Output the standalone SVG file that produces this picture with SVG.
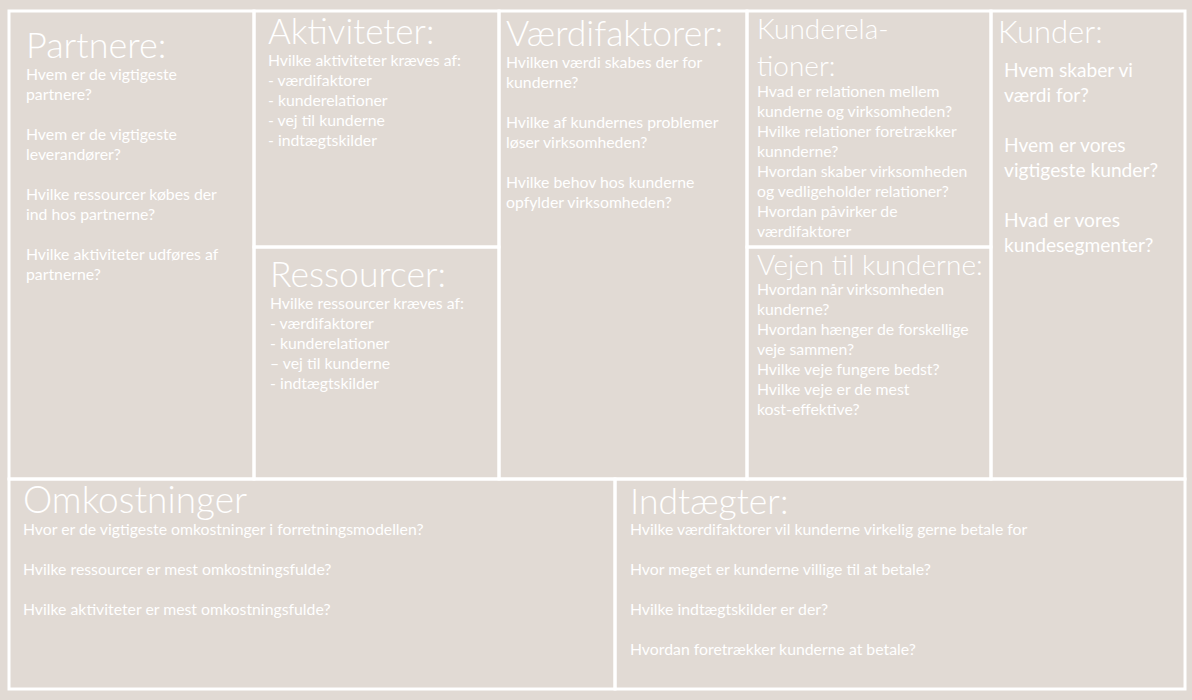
<svg xmlns="http://www.w3.org/2000/svg" width="1192" height="700" viewBox="0 0 1192 700">
<style>
.cell{fill:none;stroke:#ffffff;stroke-width:3}
text{fill:#ffffff;font-family:Lato,"Open Sans","Liberation Sans",sans-serif}
.t{font-size:35.5px;font-weight:300}
.t2{font-size:28px;font-weight:300}
.b{font-size:15.8px}
.bk{font-size:19.2px}
</style>
<rect width="1192" height="700" fill="#e1dad4"/>
<g id="partnere">
<rect class="cell" x="9" y="11" width="245" height="468"/>
<text class="t" x="26" y="58" style="font-size:36px">Partnere:</text>
<text class="b" x="26" y="80">Hvem er de vigtigeste</text>
<text class="b" x="26" y="100">partnere?</text>
<text class="b" x="26" y="140">Hvem er de vigtigeste</text>
<text class="b" x="26" y="160">leverandører?</text>
<text class="b" x="26" y="200">Hvilke ressourcer købes der</text>
<text class="b" x="26" y="220">ind hos partnerne?</text>
<text class="b" x="26" y="260">Hvilke aktiviteter udføres af</text>
<text class="b" x="26" y="280">partnerne?</text>
</g>
<g id="aktiviteter">
<rect class="cell" x="254" y="11" width="245" height="236"/>
<text class="t" x="268" y="44" style="font-size:35px">Aktiviteter:</text>
<text class="b" x="268" y="66">Hvilke aktiviteter kræves af:</text>
<text class="b" x="268" y="86">- værdifaktorer</text>
<text class="b" x="268" y="106">- kunderelationer</text>
<text class="b" x="268" y="126">- vej til kunderne</text>
<text class="b" x="268" y="146">- indtægtskilder</text>
</g>
<g id="ressourcer">
<rect class="cell" x="254" y="247" width="245" height="232"/>
<text class="t" x="270" y="287">Ressourcer:</text>
<text class="b" x="270" y="309">Hvilke ressourcer kræves af:</text>
<text class="b" x="270" y="329">- værdifaktorer</text>
<text class="b" x="270" y="349">- kunderelationer</text>
<text class="b" x="270" y="369">– vej til kunderne</text>
<text class="b" x="270" y="389">- indtægtskilder</text>
</g>
<g id="vaerdifaktorer">
<rect class="cell" x="499" y="11" width="248" height="468"/>
<text class="t" x="506" y="46">Værdifaktorer:</text>
<text class="b" x="506" y="68">Hvilken værdi skabes der for</text>
<text class="b" x="506" y="88">kunderne?</text>
<text class="b" x="506" y="128">Hvilke af kundernes problemer</text>
<text class="b" x="506" y="148">løser virksomheden?</text>
<text class="b" x="506" y="188">Hvilke behov hos kunderne</text>
<text class="b" x="506" y="208">opfylder virksomheden?</text>
</g>
<g id="kunderelationer">
<rect class="cell" x="747" y="11" width="244" height="236"/>
<text class="t2" x="757" y="39">Kunderela-</text>
<text class="t2" x="757" y="76">tioner:</text>
<text class="b" x="757" y="97">Hvad er relationen mellem</text>
<text class="b" x="757" y="117">kunderne og virksomheden?</text>
<text class="b" x="757" y="137">Hvilke relationer foretrækker</text>
<text class="b" x="757" y="157">kunnderne?</text>
<text class="b" x="757" y="177">Hvordan skaber virksomheden</text>
<text class="b" x="757" y="197">og vedligeholder relationer?</text>
<text class="b" x="757" y="217">Hvordan påvirker de</text>
<text class="b" x="757" y="237">værdifaktorer</text>
</g>
<g id="vejen">
<rect class="cell" x="747" y="247" width="244" height="232"/>
<text class="t2" x="757" y="275">Vejen til kunderne:</text>
<text class="b" x="757" y="295">Hvordan når virksomheden</text>
<text class="b" x="757" y="315">kunderne?</text>
<text class="b" x="757" y="335">Hvordan hænger de forskellige</text>
<text class="b" x="757" y="355">veje sammen?</text>
<text class="b" x="757" y="375">Hvilke veje fungere bedst?</text>
<text class="b" x="757" y="395">Hvilke veje er de mest</text>
<text class="b" x="757" y="415">kost-effektive?</text>
</g>
<g id="kunder">
<rect class="cell" x="991" y="11" width="194" height="468"/>
<text class="t2" x="998" y="43" style="font-size:31px">Kunder:</text>
<text class="bk" x="1004" y="77">Hvem skaber vi</text>
<text class="bk" x="1004" y="102">værdi for?</text>
<text class="bk" x="1004" y="152">Hvem er vores</text>
<text class="bk" x="1004" y="177">vigtigeste kunder?</text>
<text class="bk" x="1004" y="227">Hvad er vores</text>
<text class="bk" x="1004" y="252">kundesegmenter?</text>
</g>
<g id="omkostninger">
<rect class="cell" x="9" y="479" width="606" height="210"/>
<text class="t" x="23" y="513" style="font-size:37px">Omkostninger</text>
<text class="b" x="23" y="535">Hvor er de vigtigeste omkostninger i forretningsmodellen?</text>
<text class="b" x="23" y="575">Hvilke ressourcer er mest omkostningsfulde?</text>
<text class="b" x="23" y="615">Hvilke aktiviteter er mest omkostningsfulde?</text>
</g>
<g id="indtaegter">
<rect class="cell" x="615" y="479" width="570" height="210"/>
<text class="t" x="630" y="514">Indtægter:</text>
<text class="b" x="630" y="535">Hvilke værdifaktorer vil kunderne virkelig gerne betale for</text>
<text class="b" x="630" y="575">Hvor meget er kunderne villige til at betale?</text>
<text class="b" x="630" y="615">Hvilke indtægtskilder er der?</text>
<text class="b" x="630" y="655">Hvordan foretrækker kunderne at betale?</text>
</g>
<g id="connectors"/>
</svg>
